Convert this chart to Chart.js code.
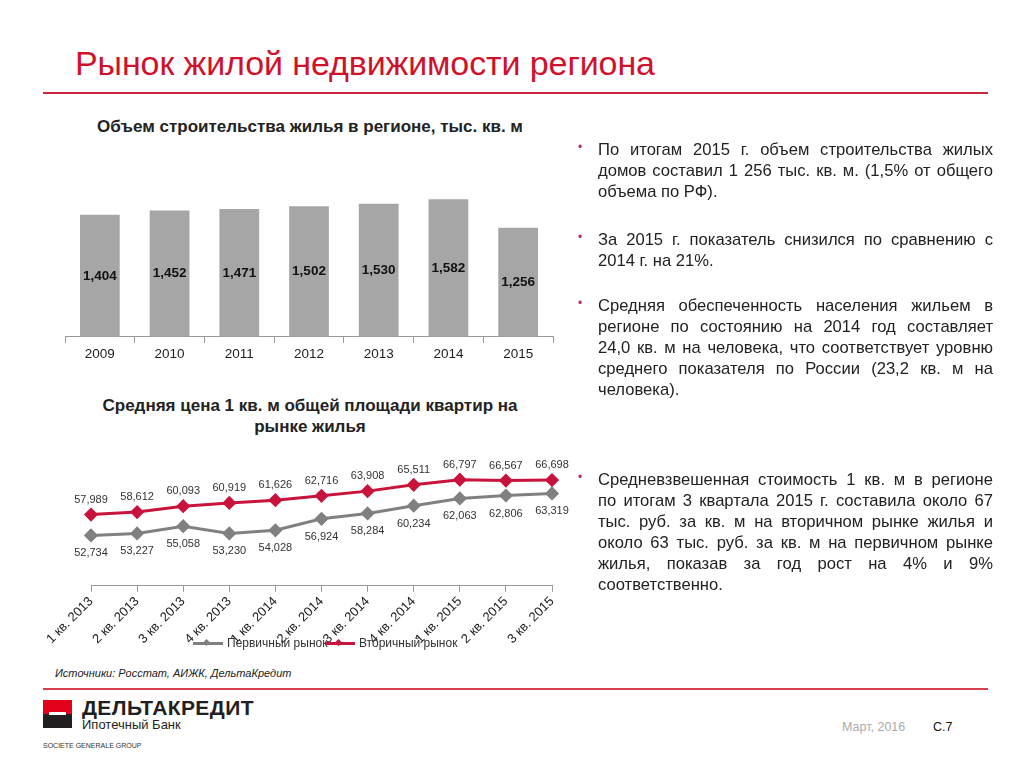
<!DOCTYPE html>
<html>
<head>
<meta charset="utf-8">
<script src="https://cdn.jsdelivr.net/npm/chart.js@4"></script>
<style>
  body { margin:0; background:#fff; font-family:"Liberation Sans", Arial, sans-serif; }
  #page { position:relative; width:1024px; height:768px; overflow:hidden; }
  .abs { position:absolute; }
  #title { left:75px; top:44px; font-size:34px; color:#d0112b; white-space:nowrap; letter-spacing:-0.1px; }
  .rule { left:43px; width:945px; height:2px; background:#c8283a; }
  .ctitle { font-weight:bold; font-size:17px; color:#222; text-align:center; }
  #bullets { left:578px; top:139px; width:415px; font-size:16.6px; line-height:21px; color:#222; }
  #bullets p { margin:0; position:relative; padding-left:20px; }
  #bullets p span { display:block; white-space:nowrap; text-align:justify; text-align-last:justify; }
  #bullets p span.end { text-align-last:left; }
  #bullets p::before { content:"•"; position:absolute; left:0; top:-2px; color:#b03050; font-size:12px; }
  .leg { font-size:12px; color:#333; white-space:nowrap; }
  .leg i { display:inline-block; position:relative; width:30px; height:3px; vertical-align:middle; margin-right:4px; }
  .leg i b { position:absolute; left:11px; top:-2px; width:5px; height:5px; transform:rotate(45deg); }
</style>
</head>
<body>
<div id="page">
  <div id="title" class="abs">Рынок жилой недвижимости региона</div>
  <div class="abs rule" style="top:92px"></div>

  <div class="abs ctitle" style="left:60px;top:117px;width:500px">Объем строительства жилья в регионе, тыс. кв. м</div>
  <div class="abs" style="left:40px;top:150px;width:530px;height:215px"><canvas id="bars"></canvas></div>

  <div class="abs ctitle" style="left:60px;top:395px;width:500px;line-height:21px">Средняя цена 1 кв. м общей площади квартир на<br>рынке жилья</div>
  <div class="abs" style="left:20px;top:450px;width:560px;height:199px"><canvas id="lines"></canvas></div>
  <div class="abs leg" style="left:193px;top:636px"><i style="background:#808080"><b style="background:#808080"></b></i>Первичный рынок</div>
  <div class="abs leg" style="left:325px;top:636px"><i style="background:#c8143c"><b style="background:#c8143c"></b></i>Вторичный рынок</div>

  <div class="abs" style="left:55px;top:667px;font-size:11px;font-style:italic;color:#222">Источники: Росстат, АИЖК, ДельтаКредит</div>
  <div class="abs rule" style="top:688px;background:#d9404f"></div>

  <div id="bullets" class="abs">
    <p><span>По итогам 2015 г. объем строительства жилых</span><span>домов составил 1 256 тыс. кв. м. (1,5% от общего</span><span class="end">объема по РФ).</span></p>
    <p style="margin-top:27px"><span>За 2015 г. показатель снизился по сравнению с</span><span class="end">2014 г. на 21%.</span></p>
    <p style="margin-top:24px"><span>Средняя обеспеченность населения жильем в</span><span>регионе по состоянию на 2014 год составляет</span><span>24,0 кв. м на человека, что соответствует уровню</span><span>среднего показателя по России (23,2 кв. м на</span><span class="end">человека).</span></p>
    <p style="margin-top:69px"><span>Средневзвешенная стоимость 1 кв. м в регионе</span><span>по итогам 3 квартала 2015 г. составила около 67</span><span>тыс. руб. за кв. м на вторичном рынке жилья и</span><span>около 63 тыс. руб. за кв. м на первичном рынке</span><span>жилья, показав за год рост на 4% и 9%</span><span class="end">соответственно.</span></p>
  </div>

  <div class="abs" style="left:43px;top:700px;width:29px;height:14px;background:#e2001a"></div>
  <div class="abs" style="left:43px;top:714px;width:29px;height:14px;background:#231f20"></div>
  <div class="abs" style="left:49px;top:712px;width:17px;height:3px;background:#fff"></div>
  <div class="abs" style="left:82px;top:696px;font-size:21px;font-weight:bold;color:#231f20;letter-spacing:0.4px">ДЕЛЬТАКРЕДИТ</div>
  <div class="abs" style="left:82px;top:717px;font-size:13px;color:#231f20">Ипотечный Банк</div>
  <div class="abs" style="left:43px;top:742px;font-size:7px;color:#333">SOCIETE GENERALE GROUP</div>
  <div class="abs" style="left:842px;top:720px;font-size:12.5px;color:#aaa">Март, 2016</div>
  <div class="abs" style="left:933px;top:720px;font-size:12.5px;color:#111">C.7</div>
</div>

<script>
// bar chart data
var years = ["2009", "2010", "2011", "2012", "2013", "2014", "2015"];
var volume = [1404, 1452, 1471, 1502, 1530, 1582, 1256];

// line chart data
var quarters = ["1 кв. 2013", "2 кв. 2013", "3 кв. 2013", "4 кв. 2013", "1 кв. 2014", "2 кв. 2014",
                "3 кв. 2014", "4 кв. 2014", "1 кв. 2015", "2 кв. 2015", "3 кв. 2015"];
var primary = [52734, 53227, 55058, 53230, 54028, 56924, 58284, 60234, 62063, 62806, 63319];
var secondary = [57989, 58612, 60093, 60919, 61626, 62716, 63908, 65511, 66797, 66567, 66698];

Chart.defaults.font.family = '"Liberation Sans", Arial, sans-serif';
Chart.defaults.color = "#222";
Chart.defaults.animation = false;

function fmt(v) { return v.toLocaleString("en-US"); }

// values in the middle of each bar
var barLabels = {
	id: "barLabels",
	afterDatasetsDraw: function (chart) {
		var ctx = chart.ctx;
		var meta = chart.getDatasetMeta(0);
		ctx.save();
		ctx.font = "bold 13.5px " + Chart.defaults.font.family;
		ctx.fillStyle = "#111";
		ctx.textAlign = "center";
		ctx.textBaseline = "middle";
		meta.data.forEach(function (bar, i) {
			ctx.fillText(fmt(volume[i]), bar.x, (bar.y + bar.base) / 2);
		});
		ctx.restore();
	}
};

// point values: secondary above, primary below
var pointLabels = {
	id: "pointLabels",
	afterDatasetsDraw: function (chart) {
		var ctx = chart.ctx;
		ctx.save();
		ctx.font = "11px " + Chart.defaults.font.family;
		ctx.fillStyle = "#333";
		ctx.textAlign = "center";
		ctx.textBaseline = "middle";
		chart.data.datasets.forEach(function (ds, d) {
			var meta = chart.getDatasetMeta(d);
			meta.data.forEach(function (pt, i) {
				var dy = d == 0 ? 18 : -15;
				ctx.fillText(fmt(ds.data[i]), pt.x, pt.y + dy);
			});
		});
		ctx.restore();
	}
};

new Chart(document.getElementById("bars"), {
	type: "bar",
	data: {
		labels: years,
		datasets: [{
			data: volume,
			backgroundColor: "#a6a6a6",
			barPercentage: 0.57,
			categoryPercentage: 1
		}]
	},
	options: {
		responsive: true,
		maintainAspectRatio: false,
		layout: { padding: { left: 25, right: 17, top: 13 } },
		plugins: { legend: { display: false }, tooltip: { enabled: false } },
		scales: {
			x: {
				grid: { display: true, drawOnChartArea: false, tickLength: 6, color: "#999" },
				border: { display: true, color: "#999" },
				ticks: { font: { size: 13.5 }, color: "#222", padding: 3 }
			},
			y: { display: false, min: 0, max: 2000 }
		}
	},
	plugins: [barLabels]
});

new Chart(document.getElementById("lines"), {
	type: "line",
	data: {
		labels: quarters,
		datasets: [
			{
				label: "Первичный рынок",
				data: primary,
				borderColor: "#808080",
				backgroundColor: "#808080",
				borderWidth: 3,
				pointStyle: "rectRot",
				pointRadius: 5,
				tension: 0
			},
			{
				label: "Вторичный рынок",
				data: secondary,
				borderColor: "#c8143c",
				backgroundColor: "#c8143c",
				borderWidth: 3,
				pointStyle: "rectRot",
				pointRadius: 5,
				tension: 0
			}
		]
	},
	options: {
		responsive: true,
		maintainAspectRatio: false,
		layout: { padding: { left: 71, right: 28, top: 17 } },
		plugins: { legend: { display: false }, tooltip: { enabled: false } },
		scales: {
			x: {
				offset: false,
				grid: { display: true, drawOnChartArea: false, tickLength: 6, color: "#999" },
				border: { display: true, color: "#999" },
				ticks: { font: { size: 13 }, color: "#222", minRotation: 45, maxRotation: 45, padding: 2 }
			},
			y: { display: false, min: 40000, max: 70000 }
		}
	},
	plugins: [pointLabels]
});
</script>
</body>
</html>
